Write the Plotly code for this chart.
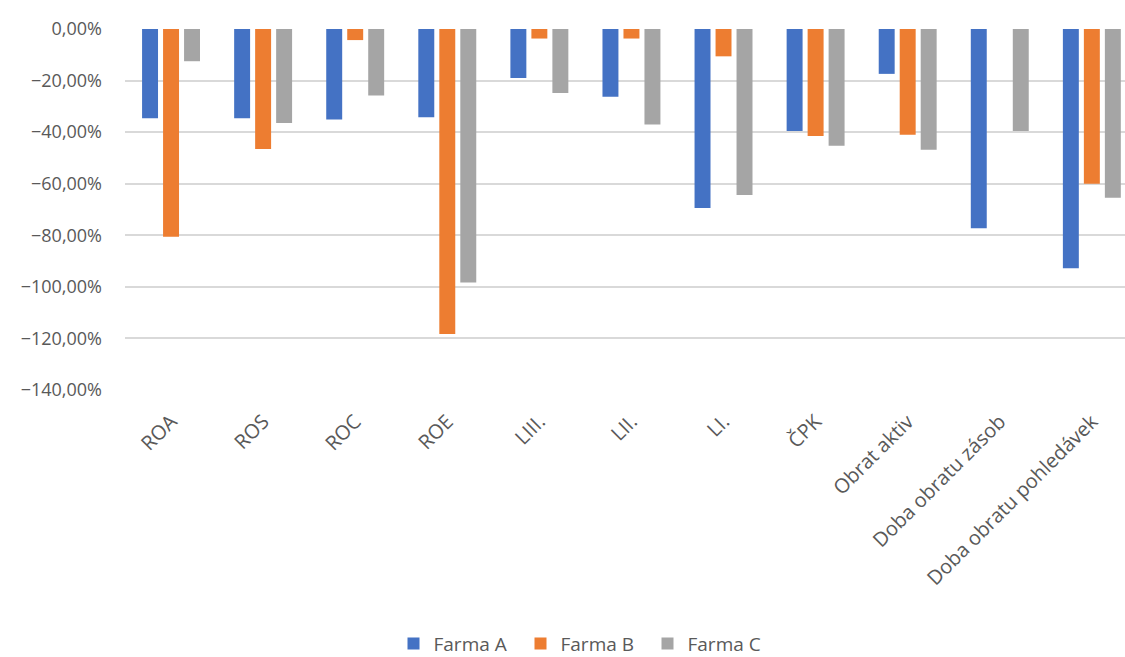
import plotly.graph_objects as go

categories = ["ROA", "ROS", "ROC", "ROE", "LIII.", "LII.", "LI.", "ČPK",
              "Obrat aktiv", "Doba obratu zásob", "Doba obratu pohledávek"]

farma_a = [-34.6, -34.6, -35.1, -34.2, -19.0, -26.3, -69.4, -39.6, -17.4, -77.3, -92.8]
farma_b = [-80.6, -46.5, -4.3, -118.3, -3.7, -3.7, -10.6, -41.5, -41.0, 0.0, -60.0]
farma_c = [-12.5, -36.5, -25.8, -98.3, -24.8, -37.0, -64.4, -45.3, -46.8, -39.6, -65.4]

series = [
    ("Farma A", farma_a, "#4472C4"),
    ("Farma B", farma_b, "#ED7D31"),
    ("Farma C", farma_c, "#A5A5A5"),
]

fig = go.Figure()
for name, vals, color in series:
    fig.add_trace(go.Bar(
        name=name,
        x=categories,
        y=[v / 100 for v in vals],
        marker=dict(color=color, line=dict(width=0)),
    ))

fig.update_layout(
    width=1125,
    height=657,
    barmode="group",
    bargap=0.316,
    bargroupgap=0.24,
    separators=", ",
    paper_bgcolor="white",
    plot_bgcolor="white",
    margin=dict(l=125, r=0, t=29, b=267, autoexpand=False),
    font=dict(family="Open Sans, sans-serif", color="#595959"),
    legend=dict(
        orientation="h",
        x=0.459, xanchor="center",
        y=-0.755, yanchor="bottom",
        font=dict(size=19, color="#595959"),
        entrywidth=82,
        traceorder="normal",
    ),
    xaxis=dict(
        range=[-0.5, 10.36],
        tickangle=-45,
        tickfont=dict(size=20, color="#595959"),
        showgrid=False,
        showline=False,
        ticks="",
        ticklabelstandoff=15,
        automargin=False,
    ),
    yaxis=dict(
        range=[-1.4, 0],
        dtick=0.2,
        tickformat=".2%",
        tickfont=dict(size=18, color="#595959"),
        showgrid=True,
        gridcolor="#D9D9D9",
        gridwidth=1.5,
        zeroline=False,
        showline=False,
        ticks="",
        ticklabelstandoff=22,
        automargin=False,
    ),
)

fig.write_html("out.html")
